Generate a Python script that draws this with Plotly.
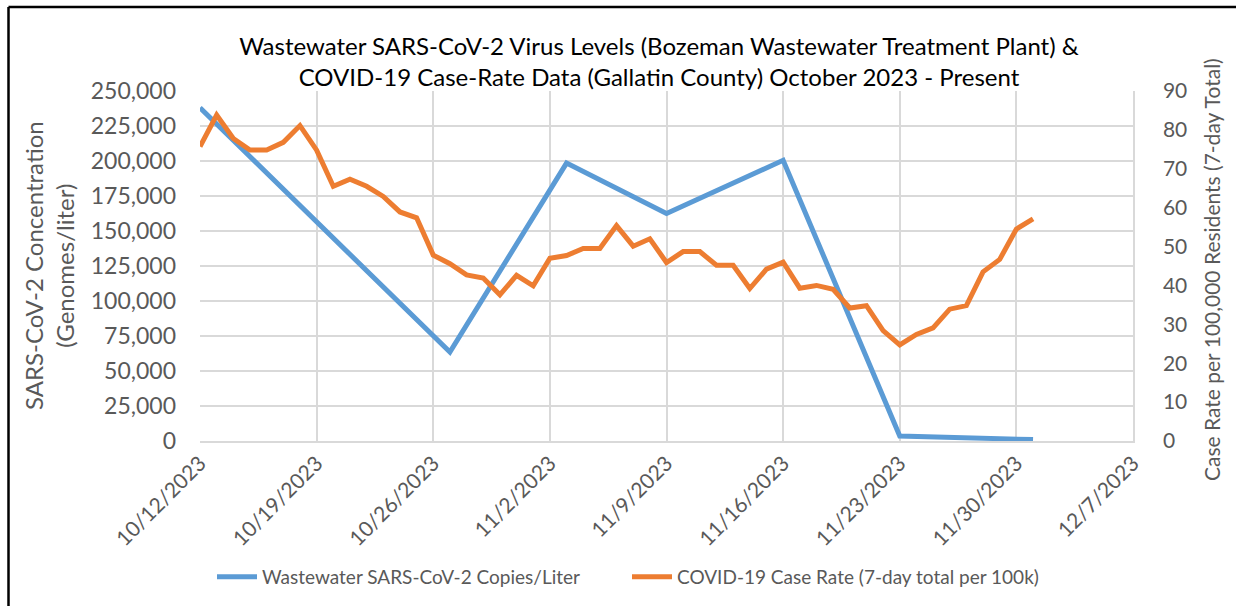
import plotly.graph_objects as go
import pandas as pd

# ---- data ----
ww_dates = ["2023-10-12", "2023-10-27", "2023-11-03", "2023-11-09",
            "2023-11-16", "2023-11-23", "2023-12-01"]
ww_copies = [238000, 63500, 198500, 162500, 200500, 3600, 1000]

case_dates = [d.strftime("%Y-%m-%d") for d in pd.date_range("2023-10-12", "2023-12-01", freq="D")]
case_rate = [75.7, 83.8, 77.8, 74.8, 74.8, 76.8, 81.1, 74.8, 65.5, 67.3,
             65.5, 62.9, 58.9, 57.4, 47.8, 45.6, 42.7, 41.9, 37.6, 42.6,
             39.9, 47.0, 47.7, 49.5, 49.5, 55.4, 50.1, 52.0, 45.9, 48.7,
             48.7, 45.2, 45.2, 39.2, 44.2, 46.0, 39.3, 40.0, 39.0, 34.2,
             34.8, 28.4, 24.7, 27.4, 29.1, 33.9, 34.8, 43.5, 46.7, 54.5,
             57.1]

title_text = ("Wastewater SARS-CoV-2 Virus Levels (Bozeman Wastewater Treatment Plant) &<br>"
              "COVID-19 Case-Rate Data (Gallatin County) October 2023 - Present")
left_title = "SARS-CoV-2 Concentration<br>(Genomes/liter)"
right_title = "Case Rate per 100,000 Residents (7-day Total)"
ww_name = "Wastewater SARS-CoV-2 Copies/Liter"
case_name = "COVID-19 Case Rate (7-day total per 100k)"

FONT = "Lato"
GRAY = "#595959"

fig = go.Figure()
fig.add_trace(go.Scatter(x=ww_dates, y=ww_copies, name=ww_name, mode="lines",
                         line=dict(color="#5B9BD5", width=5), yaxis="y"))
fig.add_trace(go.Scatter(x=case_dates, y=case_rate, name=case_name, mode="lines",
                         line=dict(color="#ED7D31", width=5), yaxis="y2"))

# plot area geometry (pixels)
L, R, T, B = 200, 1133, 91, 441
W, H = 1236, 606
def px_x(p):
    return (p - L) / (R - L)
def px_y(p):
    return (B - p) / (B - T)

fig.update_layout(
    width=W, height=H,
    margin=dict(l=L, r=W - R, t=T, b=H - B, autoexpand=False),
    paper_bgcolor="white", plot_bgcolor="white",
    font=dict(family=FONT, color=GRAY, size=19),
    title=dict(text=title_text, x=px_x(659), xref="paper", xanchor="center",
               y=1 - 55 / H, yref="container", yanchor="middle",
               font=dict(family=FONT, size=24, color="black")),
    xaxis=dict(type="date", range=["2023-10-12", "2023-12-07"],
               tick0="2023-10-12", dtick=7 * 24 * 3600 * 1000,
               tickformat="%-m/%-d/%Y", tickangle=-45, automargin=False,
               showgrid=True, gridcolor="#d9d9d9", gridwidth=1.5,
               showline=True, linecolor="#d9d9d9", linewidth=1.5,
               ticks="", tickfont=dict(size=21, color=GRAY), zeroline=False),
    yaxis=dict(range=[0, 250000], dtick=25000, tickformat=",d", automargin=False,
               showgrid=True, gridcolor="#d9d9d9", gridwidth=1.5,
               zeroline=False, showline=False, ticks="",
               ticklabelstandoff=23, tickfont=dict(size=23, color=GRAY)),
    yaxis2=dict(range=[0, 90], dtick=10, overlaying="y", side="right",
                automargin=False,
                showgrid=False, zeroline=False, showline=True,
                linecolor="#d9d9d9", linewidth=1.5, ticks="",
                ticklabelstandoff=24, tickfont=dict(size=21, color=GRAY)),
    showlegend=True,
    legend=dict(orientation="h", xref="container", yref="container",
                x=627 / W, xanchor="center", y=1 - 577 / H, yanchor="middle",
                font=dict(size=19, color=GRAY), itemwidth=40,
                entrywidth=360, entrywidthmode="pixels",
                bgcolor="rgba(0,0,0,0)"),
)

fig.add_annotation(text=left_title, xref="paper", yref="paper",
                   x=px_x(49), y=px_y(266), xanchor="center", yanchor="middle",
                   textangle=-90, showarrow=False,
                   font=dict(family=FONT, size=24, color=GRAY))
fig.add_annotation(text=right_title, xref="paper", yref="paper",
                   x=px_x(1211), y=px_y(270), xanchor="center", yanchor="middle",
                   textangle=-90, showarrow=False,
                   font=dict(family=FONT, size=21, color=GRAY))

# outer chart frame (left and top edges visible)
fig.add_shape(type="line", xref="paper", yref="paper",
              x0=px_x(8.5), y0=px_y(7), x1=px_x(8.5), y1=px_y(620),
              line=dict(color="black", width=2.5))
fig.add_shape(type="line", xref="paper", yref="paper",
              x0=px_x(8.5), y0=px_y(7), x1=px_x(1250), y1=px_y(7),
              line=dict(color="black", width=2.5))

fig.write_html("out.html", config={"displayModeBar": False},
               post_script="document.body.style.margin='0';")
